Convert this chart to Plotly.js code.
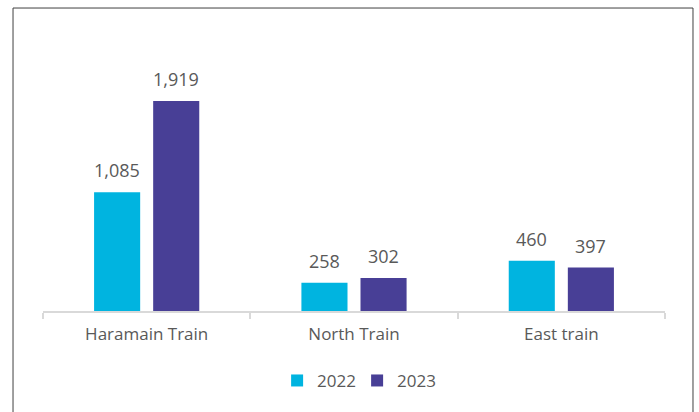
<!DOCTYPE html>
<html>
<head>
<meta charset="utf-8">
<script src="https://cdn.plot.ly/plotly-3.0.1.min.js"></script>
<style>html,body{margin:0;padding:0;background:#fff;}#chart{width:699px;height:412px;}</style>
</head>
<body>
<div id="chart"></div>
<script>
const categories = ["Haramain Train", "North Train", "East train"];
const seriesNames = ["2022", "2023"];
const values2022 = [1085, 258, 460];
const values2023 = [1919, 302, 397];
const colors = ["#00B4E0", "#483F96"];

const fontFamily = "'Open Sans', 'Noto Sans', sans-serif";
const textColor = "#595959";

const traces = [values2022, values2023].map((vals, i) => ({
  type: "bar",
  name: seriesNames[i],
  x: categories,
  y: vals,
  marker: {color: colors[i]},
  hoverinfo: "none"
}));

const annotations = [];
[values2022, values2023].forEach((vals, i) => {
  vals.forEach((v, j) => {
    annotations.push({
      x: categories[j], y: v, xref: "x", yref: "y",
      text: v.toLocaleString("en-US"),
      showarrow: false, yanchor: "bottom",
      xshift: i === 0 ? -29.5 : 29.5,
      yshift: 8,
      font: {family: fontFamily, size: 18, color: textColor}
    });
  });
});

const layout = {
  width: 699, height: 412,
  margin: {l: 43, r: 34, t: 40, b: 101, pad: 0},
  paper_bgcolor: "#fff", plot_bgcolor: "#fff",
  barmode: "group", bargap: 0.43, bargroupgap: 0.22,
  showlegend: true,
  legend: {orientation: "h", x: 0.505, xanchor: "center", y: -0.258, yanchor: "middle",
           entrywidth: 35, itemwidth: 30,
           font: {family: fontFamily, size: 17, color: textColor}, itemclick: false},
  xaxis: {
    type: "category", showline: true, linecolor: "#D9D9D9", linewidth: 2,
    ticks: "outside", tickson: "boundaries", ticklen: 6, tickcolor: "#D9D9D9", tickwidth: 2,
    tickfont: {family: fontFamily, size: 17, color: textColor},
    ticklabelstandoff: 7,
    showgrid: false, zeroline: false, fixedrange: true
  },
  yaxis: {range: [0, 2477], visible: false, showgrid: false, zeroline: false, fixedrange: true},
  annotations: annotations,
  shapes: [{
    type: "rect", xref: "paper", yref: "paper",
    x0: -0.0482, x1: 1.045, y0: -0.5, y1: 1.118,
    line: {color: "#404040", width: 1}, layer: "below"
  }]
};

Plotly.newPlot("chart", traces, layout, {displayModeBar: false, staticPlot: true});
</script>
</body>
</html>
